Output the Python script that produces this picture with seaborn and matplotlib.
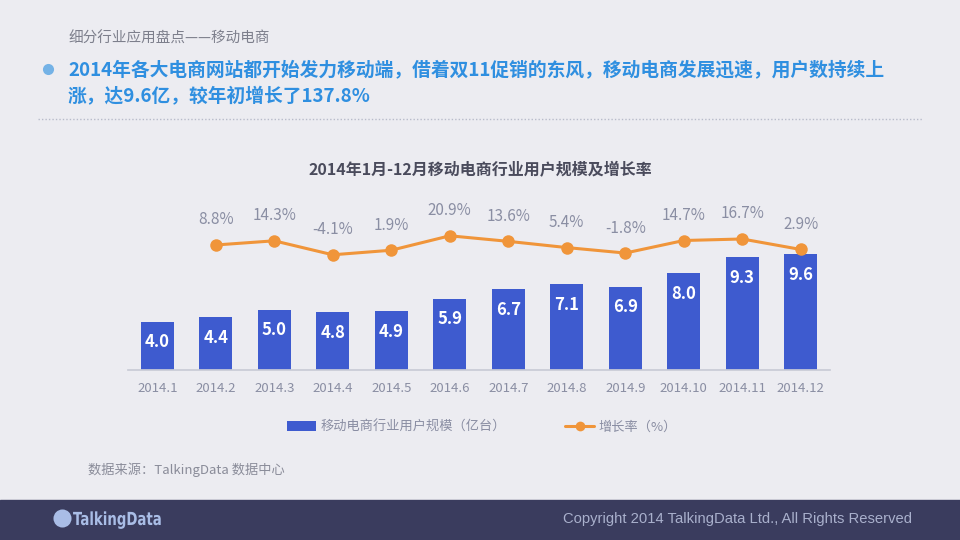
import numpy as np
import pandas as pd
import matplotlib
matplotlib.use("Agg")
import matplotlib.pyplot as plt
import matplotlib.transforms as mtrans
from matplotlib.patches import Patch, Rectangle, PathPatch
from matplotlib.lines import Line2D
from matplotlib.textpath import TextPath
from matplotlib.font_manager import FontProperties
import seaborn as sns

months = ['2014.1', '2014.2', '2014.3', '2014.4', '2014.5', '2014.6',
          '2014.7', '2014.8', '2014.9', '2014.10', '2014.11', '2014.12']
users = [4.0, 4.4, 5.0, 4.8, 4.9, 5.9, 6.7, 7.1, 6.9, 8.0, 9.3, 9.6]
growth_months = months[1:]
growth = [8.8, 14.3, -4.1, 1.9, 20.9, 13.6, 5.4, -1.8, 14.7, 16.7, 2.9]

BG = '#ececf1'
BLUE = '#3e5bcf'
ORANGE = '#f0953a'
GRAY = '#8a8ea3'

sns.set_theme(style='white')
plt.rcParams['font.family'] = ['Noto Sans CJK SC', 'DejaVu Sans']
plt.rcParams['axes.unicode_minus'] = False

fig = plt.figure(figsize=(9.6, 5.4), dpi=100, facecolor=BG)

def fy(px):
    return 1 - px / 540

def dot(xpx, ypx, size, color):
    fig.lines.append(Line2D([xpx / 960], [fy(ypx)], transform=fig.transFigure, marker='o',
                            markersize=size, markeredgewidth=0, color=color, ls='none'))

# header
fig.text(68 / 960, fy(39), '细分行业应用盘点——移动电商', fontsize=10.5,
         color='#7d7f8c', va='center')
dot(48, 69, 8, '#74b2e6')
fig.text(68 / 960, fy(70), '2014年各大电商网站都开始发力移动端，借着双11促销的东风，移动电商发展迅速，用户数持续上',
         fontsize=13.5, fontweight='bold', color='#2f8fe0', va='center')
fig.text(68 / 960, fy(97), '涨，达9.6亿，较年初增长了137.8%',
         fontsize=13.5, fontweight='bold', color='#2f8fe0', va='center')
fig.lines.append(Line2D([38 / 960, 922 / 960], [fy(119), fy(119)], transform=fig.transFigure,
                        color='#b8bbca', lw=1, ls=(0, (1, 1.5))))

fig.text(0.5, fy(170), '2014年1月-12月移动电商行业用户规模及增长率', fontsize=11.5,
         fontweight='bold', color='#4a4b5c', ha='center', va='center')

# chart
ax = fig.add_axes([128 / 960, fy(370), 702 / 960, 170 / 540])
ax.set_facecolor('none')
df = pd.DataFrame({'month': months, 'users': users})
sns.barplot(data=df, x='month', y='users', color=BLUE, saturation=1, width=0.56,
            linewidth=0, ax=ax)
ax.set_ylim(0, 14.05)
ax.set_xlim(-0.5, 11.5)
for i, v in enumerate(users):
    ax.annotate(f'{v:.1f}', (i, v), xytext=(0, -15), textcoords='offset points',
                ha='center', va='center', color='white', fontsize=12, fontweight='bold')
ax.set_xlabel('')
ax.set_ylabel('')
ax.set_yticks([])
ax.tick_params(axis='x', length=0, pad=9, labelsize=9.5, labelcolor=GRAY)
for s in ['top', 'right', 'left']:
    ax.spines[s].set_visible(False)
ax.spines['bottom'].set_color('#c9cbd6')

ax2 = ax.twinx()
gdf = pd.DataFrame({'x': [months.index(m) for m in growth_months], 'growth': growth})
sns.lineplot(data=gdf, x='x', y='growth', color=ORANGE, lw=2.2, marker='o',
             markersize=9, markeredgewidth=0, ax=ax2)
ax2.set_ylim(-155.7, 68.0)
ax2.set_xlim(-0.5, 11.5)
ax2.axis('off')
for x, g in zip(gdf['x'], growth):
    ax2.annotate(f'{g}%', (x, g), xytext=(0, 18), textcoords='offset points',
                 ha='center', va='center', color=GRAY, fontsize=11)

handles = [Patch(facecolor=BLUE, edgecolor='none'),
           Line2D([], [], color=ORANGE, lw=2.2, marker='o', markersize=7, markeredgewidth=0)]
fig.legend(handles, ['移动电商行业用户规模（亿台）', '增长率（%）'], loc='center',
           bbox_to_anchor=(482 / 960, fy(427)), ncol=2, frameon=False, fontsize=9.5,
           labelcolor=GRAY, handlelength=2.2, handletextpad=0.3, columnspacing=4.5)

fig.text(88 / 960, fy(470), '数据来源：TalkingData 数据中心', fontsize=9.5,
         color='#8a8c99', va='center')

# footer
fig.patches.append(Rectangle((0, 0), 1, 40 / 540, transform=fig.transFigure,
                             color='#3a3c5e', figure=fig, zorder=-1))
dot(62, 518, 13, '#a9bde6')
# condensed logo text
logo = TextPath((0, 0), 'TalkingData', size=18,
                prop=FontProperties(family='DejaVu Sans', weight='bold'))
logo_tr = mtrans.Affine2D().scale(0.74, 1).translate(73, 540 - 525)
fig.patches.append(PathPatch(logo, transform=logo_tr, color='#a9bde6', lw=0, figure=fig))
fig.text(912 / 960, fy(519), 'Copyright 2014 TalkingData Ltd., All Rights Reserved',
         fontsize=10.6, color='#a9b0cc', ha='right', va='center', family='Liberation Sans')

fig.savefig('out.png', dpi=100, facecolor=BG)
